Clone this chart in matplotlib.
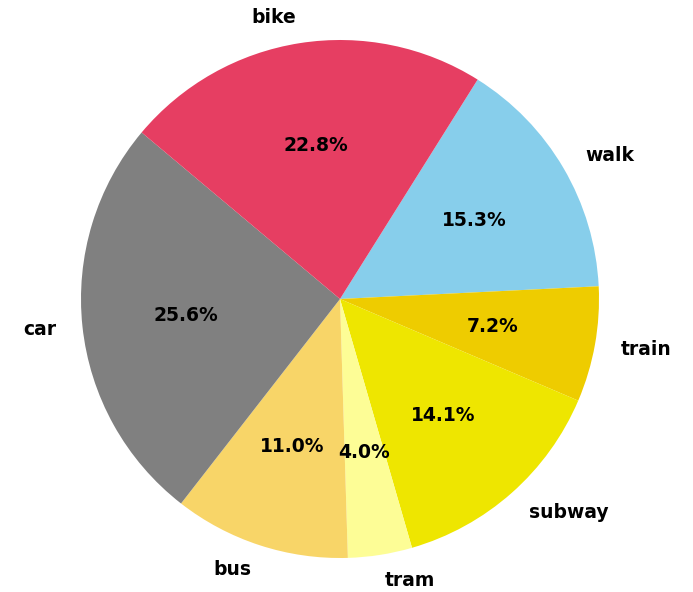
import matplotlib
matplotlib.use("Agg")
import matplotlib.pyplot as plt

labels = ["walk", "train", "subway", "tram", "bus", "car", "bike"]
shares = [15.3, 7.2, 14.1, 4.0, 11.0, 25.6, 22.8]
colors = ["#87CEEB", "#EECC00", "#EEE600", "#FDFD96", "#F8D568", "#808080", "#E63E62"]

fig = plt.figure(figsize=(6.93, 5.92), dpi=100)
ax = fig.add_axes([0, 0, 1, 1])
ax.pie(shares, labels=labels, colors=colors, autopct="%1.1f%%",
       startangle=57.9, counterclock=False, labeldistance=1.1, pctdistance=0.6,
       textprops={"fontsize": 13.5, "fontweight": "bold"})
r = 259.0
ax.set_xlim(-340 / r, 353 / r)
ax.set_ylim(-293 / r, 299 / r)
ax.set_aspect("auto")
ax.axis("off")
fig.savefig("out.png", dpi=100)
